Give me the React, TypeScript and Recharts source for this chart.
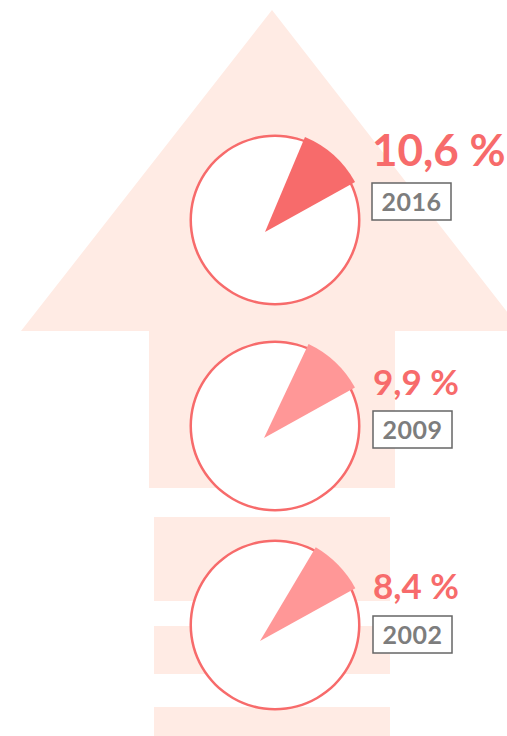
import React from 'react';
import { PieChart, Pie, Cell } from 'recharts';

const years = ['2016', '2009', '2002'];
const shares = [10.6, 9.9, 8.4];
const shareLabels = ['10,6 %', '9,9 %', '8,4 %'];

// positions of each pie block (layout only)
const blocks = [
  { cy: 220, ax: 265, ay: 232, r: 103, tx: 372, ty: 166, fs: 44, by: 183, color: '#f76b6b' },
  { cy: 426, ax: 264, ay: 438, r: 104, tx: 373, ty: 395, fs: 35, by: 411, color: '#ff9797' },
  { cy: 625, ax: 260, ay: 641, r: 109, tx: 373, ty: 599, fs: 35, by: 616, color: '#ff9797' },
];

const W = 507;
const H = 736;
const RED = '#f76b6b';
const PEACH = '#ffebe4';

const Background: React.FC = () => (
  <svg width={W} height={H} style={{ position: 'absolute', left: 0, top: 0 }}>
    <polygon points="272,10 522,331 395,331 395,488 149,488 149,331 21,331" fill={PEACH} />
    <rect x={154} y={517} width={236} height={84} fill={PEACH} />
    <rect x={154} y={626} width={236} height={48} fill={PEACH} />
    <rect x={154} y={707} width={236} height={40} fill={PEACH} />
  </svg>
);

const makeLabel = (i: number) => (props: any) => {
  if (props.index !== 0) return null;
  const b = blocks[i];
  return (
    <g>
      <text x={b.tx} y={b.ty} fill={RED} fontFamily="Lato" fontWeight={700} fontSize={b.fs}>
        {shareLabels[i]}
      </text>
      <rect x={b.tx} y={b.by} width={79} height={37} fill="#fff" stroke="#666" strokeWidth={1.5} />
      <text x={b.tx + 39.5} y={b.by + 28} fill="#7d7d7d" fontFamily="Lato" fontWeight={700} fontSize={25} letterSpacing={0.5} textAnchor="middle">
        {years[i]}
      </text>
    </g>
  );
};

export default function App() {
  return (
    <div style={{ position: 'absolute', left: 0, top: 0, width: W, height: H, overflow: 'hidden' }}>
      <Background />
      <div style={{ position: 'absolute', left: 0, top: 0 }}>
        <PieChart width={W} height={H} margin={{ top: 0, right: 0, bottom: 0, left: 0 }}>
          {blocks.map((b, i) => (
            <Pie
              key={`ring-${i}`}
              data={[{ name: 'ring', value: 1 }]}
              dataKey="value"
              cx={275}
              cy={b.cy}
              outerRadius={85.5}
              startAngle={90}
              endAngle={-270}
              fill={RED}
              stroke="none"
              isAnimationActive={false}
            />
          ))}
          {blocks.map((b, i) => (
            <Pie
              key={`disc-${i}`}
              data={[{ name: 'disc', value: 1 }]}
              dataKey="value"
              cx={275}
              cy={b.cy}
              outerRadius={83}
              startAngle={90}
              endAngle={-270}
              fill="#fff"
              stroke="none"
              isAnimationActive={false}
            />
          ))}
          {blocks.map((b, i) => (
            <Pie
              key={`slice-${i}`}
              data={[
                { name: years[i], value: shares[i] },
                { name: 'rest', value: 100 - shares[i] },
              ]}
              dataKey="value"
              cx={b.ax}
              cy={b.ay}
              outerRadius={b.r}
              startAngle={29}
              endAngle={389}
              stroke="none"
              labelLine={false}
              label={makeLabel(i)}
              isAnimationActive={false}
            >
              <Cell fill={b.color} />
              <Cell fill="none" />
            </Pie>
          ))}
        </PieChart>
      </div>
    </div>
  );
}
